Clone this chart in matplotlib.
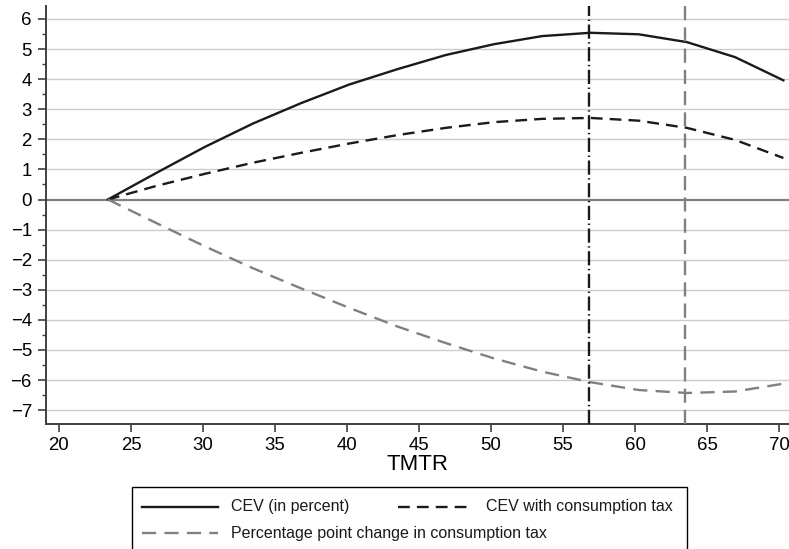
import matplotlib
matplotlib.use("Agg")
from matplotlib import pyplot as plt
from matplotlib.lines import Line2D
from matplotlib.patches import Rectangle
from matplotlib.ticker import MultipleLocator

plt.rcParams['font.family'] = ['Liberation Sans', 'DejaVu Sans']

# top marginal tax rate grid and welfare results
tmtr = [23.4, 26.75, 30.1, 33.45, 36.8, 40.15, 43.5, 46.85, 50.2,
        53.55, 56.9, 60.25, 63.6, 66.95, 70.3]
cev = [0.0, 0.88, 1.74, 2.52, 3.2, 3.82, 4.33, 4.80, 5.16,
       5.43, 5.54, 5.49, 5.23, 4.73, 3.96]
cev_ctax = [0.0, 0.45, 0.85, 1.22, 1.55, 1.86, 2.14, 2.38, 2.57,
            2.68, 2.71, 2.62, 2.38, 1.98, 1.38]
ctax_change = [0.0, -0.78, -1.55, -2.28, -2.95, -3.6, -4.22, -4.77, -5.28,
               -5.72, -6.07, -6.33, -6.43, -6.38, -6.12]
opt_cev = 56.83
opt_ctax = 63.5

W, H = 789, 549
fig = plt.figure(figsize=(W/100, H/100), dpi=100)
ax = fig.add_axes([45.7/W, 1 - 424/H, 1 - 45.7/W, (424 - 6)/H])

black = "#1a1a1a"
grey = "#808080"

for v in range(-7, 7):
    if v != 0:
        ax.axhline(v, color="#cccccc", linewidth=1.0, zorder=0)
ax.axhline(0, color=grey, linewidth=1.6, zorder=1)

ax.plot(tmtr, cev, color=black, linewidth=1.7, zorder=3)
ax.plot(tmtr, cev_ctax, color=black, linewidth=1.7, dashes=(5, 3), zorder=3)
ax.plot(tmtr, ctax_change, color=grey, linewidth=1.7, dashes=(6, 3.5), zorder=3)

ax.axvline(opt_cev, color=black, linewidth=1.7, dashes=(6, 1.5, 0.6, 1.5), zorder=4)
ax.axvline(opt_ctax, color=grey, linewidth=1.7, dashes=(6, 3), zorder=4)

ax.set_xlim(19.08, 70.69)
ax.set_ylim(-7.46, 6.43)
ax.xaxis.set_major_locator(MultipleLocator(5))
ax.yaxis.set_major_locator(MultipleLocator(1))
ax.yaxis.set_minor_locator(MultipleLocator(0.5))

for side in ["top", "right"]:
    ax.spines[side].set_visible(False)
for side in ["left", "bottom"]:
    ax.spines[side].set_color("#404040")
    ax.spines[side].set_linewidth(1.4)

ax.tick_params(axis="both", which="major", direction="out", length=5.5,
               width=1.2, color="#404040", labelsize=13.4)
ax.tick_params(axis="y", which="major", pad=4.5)
ax.tick_params(axis="x", which="major", pad=3.5)
ax.tick_params(axis="y", which="minor", direction="out", length=3,
               width=1.0, color="#404040")
ax.set_xlabel("TMTR", fontsize=16, labelpad=0)

# legend box below the axes
def fx(px):
    return px / W

def fy(py):
    return 1 - py / H

fig.add_artist(Rectangle((fx(131.7), fy(560)), fx(687.3) - fx(131.7),
                         fy(487.3) - fy(560), transform=fig.transFigure,
                         fill=False, edgecolor="black", linewidth=1.0))

entries = [
    ("CEV (in percent)", black, None, 141.7, 218.3, 230.7, 506.7),
    ("CEV with consumption tax", black, (5, 3), 398.0, 472.0, 486.0, 506.7),
    ("Percentage point change in consumption tax", grey, (6, 3.5),
     141.7, 218.3, 230.7, 533.3),
]
for label, color, dash, x0, x1, xt, yy in entries:
    line = Line2D([fx(x0), fx(x1)], [fy(yy), fy(yy)], transform=fig.transFigure,
                  color=color, linewidth=1.7)
    if dash is not None:
        line.set_dashes(dash)
    fig.add_artist(line)
    fig.text(fx(xt), fy(yy), label, fontsize=11.5, va="center", ha="left",
             color="#1a1a1a")

fig.savefig("out.png", dpi=100)
